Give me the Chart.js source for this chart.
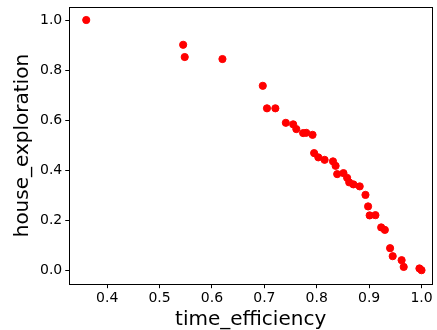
<!DOCTYPE html>
<html>
<head>
<meta charset="utf-8">
<script src="https://cdn.jsdelivr.net/npm/chart.js@4"></script>
<style>
  body { margin: 0; background: #fff; }
</style>
</head>
<body>
<canvas id="scatter" width="437" height="330"></canvas>
<script>
const timeEfficiency = [0.360, 0.545, 0.548, 0.620, 0.697, 0.705, 0.721, 0.741, 0.755, 0.761,
  0.774, 0.780, 0.792, 0.795, 0.803, 0.815, 0.831, 0.836, 0.839, 0.851,
  0.858, 0.862, 0.870, 0.882, 0.893, 0.898, 0.901, 0.912, 0.923, 0.930,
  0.940, 0.945, 0.962, 0.966, 0.996, 1.000];
const houseExploration = [1.000, 0.901, 0.852, 0.844, 0.737, 0.647, 0.647, 0.589, 0.583, 0.564,
  0.548, 0.549, 0.541, 0.468, 0.451, 0.441, 0.435, 0.417, 0.384, 0.388,
  0.369, 0.351, 0.343, 0.335, 0.301, 0.255, 0.219, 0.220, 0.171, 0.161,
  0.088, 0.056, 0.040, 0.013, 0.007, 0.000];
const xTicks = [0.4, 0.5, 0.6, 0.7, 0.8, 0.9, 1.0];
const yTicks = [0.0, 0.2, 0.4, 0.6, 0.8, 1.0];

const points = timeEfficiency.map((x, i) => ({ x: x, y: houseExploration[i] }));

const frame = {
  id: "frame",
  afterDraw(chart) {
    const { ctx, chartArea: a } = chart;
    ctx.save();
    ctx.strokeStyle = "#000";
    ctx.lineWidth = 1;
    ctx.strokeRect(Math.round(a.left) + 0.5, Math.round(a.top) + 0.5,
      Math.round(a.right - a.left), Math.round(a.bottom - a.top));
    ctx.restore();
  },
};

const font = "DejaVu Sans";

new Chart(document.getElementById("scatter"), {
  type: "scatter",
  data: {
    datasets: [
      {
        data: points,
        backgroundColor: "#ff0000",
        borderColor: "#ff0000",
        pointRadius: 3.6,
        pointHoverRadius: 3.6,
      },
    ],
  },
  options: {
    responsive: false,
    animation: false,
    layout: { padding: { left: 11, right: 5, top: 7, bottom: -2 } },
    plugins: { legend: { display: false }, tooltip: { enabled: false } },
    scales: {
      x: {
        type: "linear",
        min: 0.3276,
        max: 1.02,
        afterBuildTicks: (s) => { s.ticks = xTicks.map((v) => ({ value: v })); },
        grid: { drawOnChartArea: false, tickLength: 4, color: "#000" },
        border: { color: "#000" },
        ticks: { color: "#000", font: { family: font, size: 14 }, padding: 2,
          callback: (v) => v.toFixed(1), maxRotation: 0 },
        title: { display: true, text: "time_efficiency", color: "#000",
          font: { family: font, size: 20 }, padding: { top: -1, bottom: 0 } },
      },
      y: {
        type: "linear",
        min: -0.056,
        max: 1.052,
        afterBuildTicks: (s) => { s.ticks = yTicks.map((v) => ({ value: v })); },
        afterFit: (s) => { s.paddingTop = 0; s.paddingBottom = 0; },
        grid: { drawOnChartArea: false, tickLength: 4, color: "#000" },
        border: { color: "#000" },
        ticks: { color: "#000", font: { family: font, size: 14 }, padding: 3,
          callback: (v) => v.toFixed(1) },
        title: { display: true, text: "house_exploration", color: "#000",
          font: { family: font, size: 20 }, padding: { top: 0, bottom: 2 } },
      },
    },
  },
  plugins: [frame],
});
</script>
</body>
</html>
